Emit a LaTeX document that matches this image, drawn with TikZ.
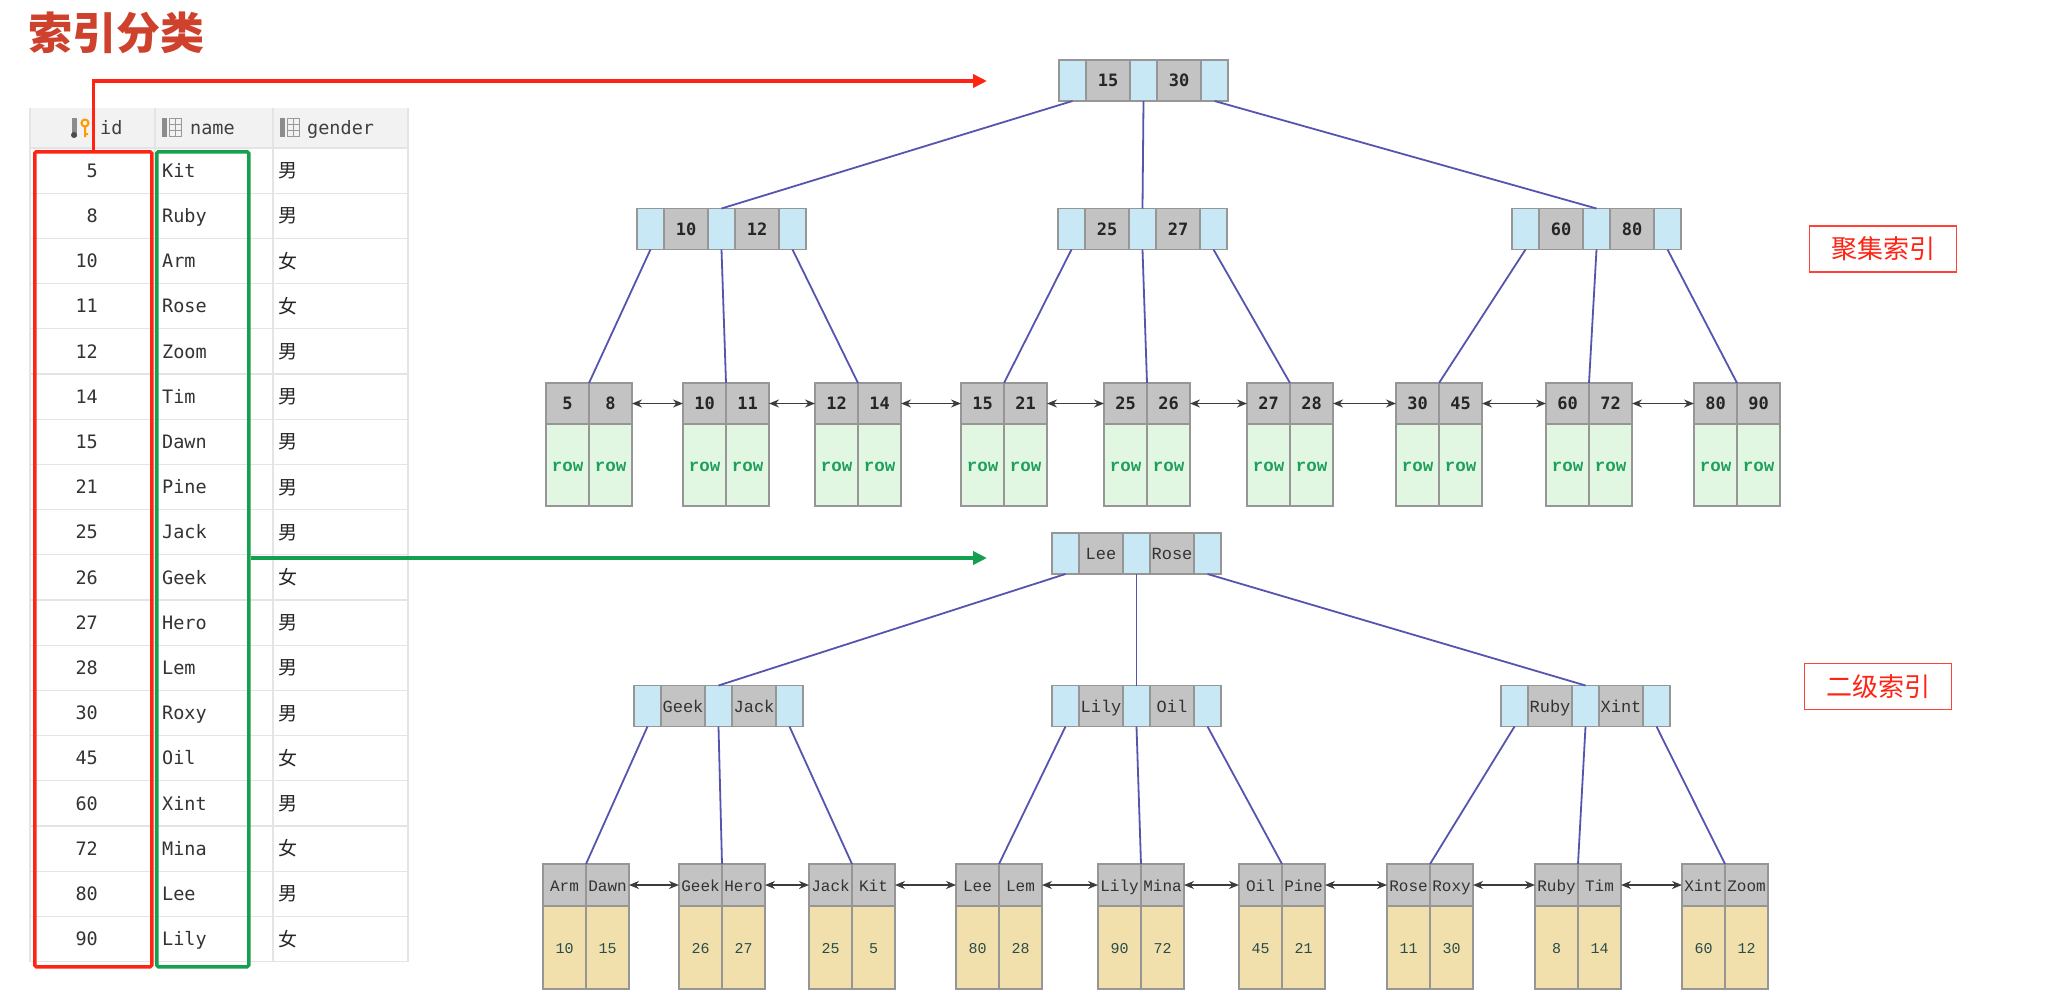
\documentclass[tikz,border=0pt]{standalone}
\usepackage{fontspec}
\usetikzlibrary{positioning,arrows.meta}

\newfontfamily\cjk{Noto Sans CJK SC}
\newfontfamily\tabfont{DejaVu Sans Mono}
\newfontfamily\courfont{Liberation Mono}

\definecolor{cellblue}{RGB}{200,232,245}
\definecolor{cellgray}{RGB}{195,195,195}
\definecolor{cellline}{RGB}{150,150,150}
\definecolor{rowgreen}{RGB}{226,247,226}
\definecolor{rowyellow}{RGB}{242,224,172}
\definecolor{rowtext}{RGB}{30,160,90}
\definecolor{numteal}{RGB}{40,75,75}
\definecolor{edgeblue}{RGB}{85,85,175}
\definecolor{linkgray}{RGB}{60,60,60}
\definecolor{idred}{RGB}{255,35,20}
\definecolor{namegreen}{RGB}{20,160,80}
\definecolor{titlered}{RGB}{205,65,45}
\definecolor{gridgray}{RGB}{228,228,228}
\definecolor{headbg}{RGB}{242,242,242}

\tikzset{
  cell/.style={draw=cellline, line width=1.3pt, outer sep=0pt, inner sep=0pt,
    minimum height=41pt, text height=12pt, text depth=0pt},
  bcell/.style={cell, fill=cellblue, minimum width=27pt},
  gcell/.style={cell, fill=cellgray, minimum width=44pt},
  tkey/.style={gcell, font=\tabfont\bfseries\fontsize{17}{20}\selectfont, text=black!85},
  bkey/.style={gcell, font=\courfont\fontsize{17}{20}\selectfont, text=black!80},
  thead/.style={tkey, minimum width=43pt},
  bhead/.style={bkey, minimum width=43pt, minimum height=42pt,
    font=\courfont\fontsize{16}{19}\selectfont},
  tbody/.style={cell, fill=rowgreen, minimum width=43pt, minimum height=82pt,
    font=\courfont\bfseries\fontsize{17.5}{20}\selectfont, text=rowtext},
  bbody/.style={cell, fill=rowyellow, minimum width=43pt, minimum height=83pt,
    font=\courfont\fontsize{15}{18}\selectfont, text=numteal},
  treeline/.style={draw=edgeblue, line width=1.8pt},
  leaflink/.style={draw=linkgray, line width=1.6pt,
    {Stealth[length=10pt,width=8pt]}-{Stealth[length=10pt,width=8pt]}},
  idtext/.style={anchor=east, inner sep=0pt, text=black!80, text height=13.5pt, text depth=0pt,
    font=\tabfont\fontsize{18.5}{22}\selectfont},
  nmtext/.style={idtext, anchor=west},
  gdtext/.style={anchor=west, inner sep=0pt, text=black!85, text height=14pt, text depth=0pt,
    font=\cjk\fontsize{19}{22}\selectfont},
  headtext/.style={nmtext, text=black!75},
  idbox/.style={draw=idred, line width=3.5pt, rounded corners=1.5pt, inner sep=0pt,
    minimum width=117pt, minimum height=815pt, anchor=north west},
  nmbox/.style={idbox, draw=namegreen, minimum width=92pt},
  kindtag/.style={draw=idred!85, line width=1.5pt, text=idred, inner sep=0pt,
    minimum width=147pt, minimum height=46pt, font=\cjk\fontsize{26}{30}\selectfont},
  pointer/.style={line width=3.5pt, -{Triangle[length=14pt,width=13pt]}}
}

% inner node: name, left x, centre y, key 1, key 2, tree (t/b)
\newcommand{\innernode}[6]{%
  \node[bcell, anchor=west] (#1-1) at (#2,#3) {};
  \node[#6key, right=0pt of #1-1] (#1-2) {#4};
  \node[bcell, right=0pt of #1-2] (#1-3) {};
  \node[#6key, right=0pt of #1-3] (#1-4) {#5};
  \node[bcell, right=0pt of #1-4] (#1-5) {};
}
% leaf node: name, left x, top y, key 1, key 2, value 1, value 2, tree (t/b)
\newcommand{\leafnode}[8]{%
  \node[#8head, anchor=north west] (#1-a) at (#2,#3) {#4};
  \node[#8head, right=0pt of #1-a] (#1-b) {#5};
  \node[#8body, below=0pt of #1-a] (#1-c) {#6};
  \node[#8body, below=0pt of #1-b] (#1-d) {#7};
}
% column icon of the table header
\newcommand{\colicon}[2]{%
  \fill[black!45] (#1,#2) rectangle ++(5,19);
  \draw[black!40, line width=1pt] (#1+7,#2+0.5) rectangle ++(12,18)
    (#1+7,#2+6.5) -- ++(12,0) (#1+7,#2+12.5) -- ++(12,0) (#1+13,#2+0.5) -- ++(0,18);
}

\begin{document}
\begin{tikzpicture}[x=1pt,y=-1pt]
  \useasboundingbox[fill=white] (0,0) rectangle (2067,999);

  % Title
  \node[anchor=west, inner sep=0pt, text=titlered, font=\cjk\bfseries\fontsize{44}{50}\selectfont]
    (title) at (28,33) {索引分类};

  % Table
  \fill[headbg] (30,108) rectangle (408,148);
  \draw[gridgray, line width=1.5pt] (30,148) -- (408,148);
  \foreach \i in {1,...,18}
    \draw[gridgray, line width=1.2pt] (30,{148+45.2*\i}) -- (408,{148+45.2*\i});
  \draw[gridgray, line width=1.2pt] (30,108) -- (30,961.6) (155,108) -- (155,961.6)
    (273,108) -- (273,961.6) (408,108) -- (408,961.6);

  \fill[black!45] (72,118) rectangle ++(5,19);
  \fill[black!70] (74,135) circle (3);
  \draw[orange!80!yellow, line width=2pt] (85,123) circle (3.5) (85,127) -- (85,137) (85,134) -- (88,134);
  \colicon{162}{118}
  \colicon{280}{118}
  \node[headtext] (hid) at (100,128) {id};
  \node[headtext] (hnm) at (190,128) {name};
  \node[headtext] (hgd) at (307,128) {gender};

  \foreach \vid/\vnm/\vgd [count=\i] in {5/Kit/男, 8/Ruby/男, 10/Arm/女, 11/Rose/女,
      12/Zoom/男, 14/Tim/男, 15/Dawn/男, 21/Pine/男, 25/Jack/男, 26/Geek/女, 27/Hero/男,
      28/Lem/男, 30/Roxy/男, 45/Oil/女, 60/Xint/男, 72/Mina/女, 80/Lee/男, 90/Lily/女} {
    \node[idtext] (id\i) at (98,{148+45.2*(\i-0.5)}) {\vid};
    \node[nmtext] (nm\i) at (162,{148+45.2*(\i-0.5)}) {\vnm};
    \node[gdtext] (gd\i) at (278,{148+45.2*(\i-0.5)}) {\vgd};
  }

  % Marked columns
  \node[idbox] (idcol) at (33,150) {};
  \node[nmbox] (nmcol) at (155,150) {};
  \coordinate (ctip) at (987,81);
  \coordinate (stip) at (987,558);
  \draw[pointer, idred] (idcol.north) |- (ctip);
  \draw[pointer, namegreen] (nmcol.east |- stip) -- (stip);

  % Clustered index
  \innernode{tr}{1059}{80.5}{15}{30}{t}
  \innernode{tm1}{637}{229}{10}{12}{t}
  \innernode{tm2}{1058}{229}{25}{27}{t}
  \innernode{tm3}{1512}{229}{60}{80}{t}
  \foreach \x/\k/\l [count=\i] in {546/5/8, 683/10/11, 815/12/14, 961/15/21, 1104/25/26,
      1247/27/28, 1396/30/45, 1546/60/72, 1694/80/90}
    \leafnode{tl\i}{\x}{383}{\k}{\l}{row}{row}{t};
  \foreach \p/\c in {1/1,3/2,5/3}
    \draw[treeline] (tr-\p.south) -- (tm\c-3.north);
  \foreach \m/\p/\l in {1/1/1,1/3/2,1/5/3,2/1/4,2/3/5,2/5/6,3/1/7,3/3/8,3/5/9}
    \draw[treeline] (tm\m-\p.south) -- (tl\l-a.north east);
  \foreach \i [evaluate=\i as \j using int(\i+1)] in {1,...,8}
    \draw[leaflink] (tl\i-b.east) -- (tl\j-a.west);

  % Secondary index
  \innernode{br}{1052}{553.5}{Lee}{Rose}{b}
  \innernode{bm1}{634}{706}{Geek}{Jack}{b}
  \innernode{bm2}{1052}{706}{Lily}{Oil}{b}
  \innernode{bm3}{1501}{706}{Ruby}{Xint}{b}
  \foreach \x/\k/\l/\u/\v [count=\i] in {543/Arm/Dawn/10/15, 679/Geek/Hero/26/27,
      809/Jack/Kit/25/5, 956/Lee/Lem/80/28, 1098/Lily/Mina/90/72, 1239/Oil/Pine/45/21,
      1387/Rose/Roxy/11/30, 1535/Ruby/Tim/8/14, 1682/Xint/Zoom/60/12}
    \leafnode{bl\i}{\x}{864}{\k}{\l}{\u}{\v}{b};
  \foreach \p/\c in {1/1,3/2,5/3}
    \draw[treeline] (br-\p.south) -- (bm\c-3.north);
  \foreach \m/\p/\l in {1/1/1,1/3/2,1/5/3,2/1/4,2/3/5,2/5/6,3/1/7,3/3/8,3/5/9}
    \draw[treeline] (bm\m-\p.south) -- (bl\l-a.north east);
  \foreach \i [evaluate=\i as \j using int(\i+1)] in {1,...,8}
    \draw[leaflink] (bl\i-b.east) -- (bl\j-a.west);

  % Labels
  \node[kindtag] (clustered) at (1883,249) {聚集索引};
  \node[kindtag] (secondary) at (1878,686.5) {二级索引};
\end{tikzpicture}
\end{document}
